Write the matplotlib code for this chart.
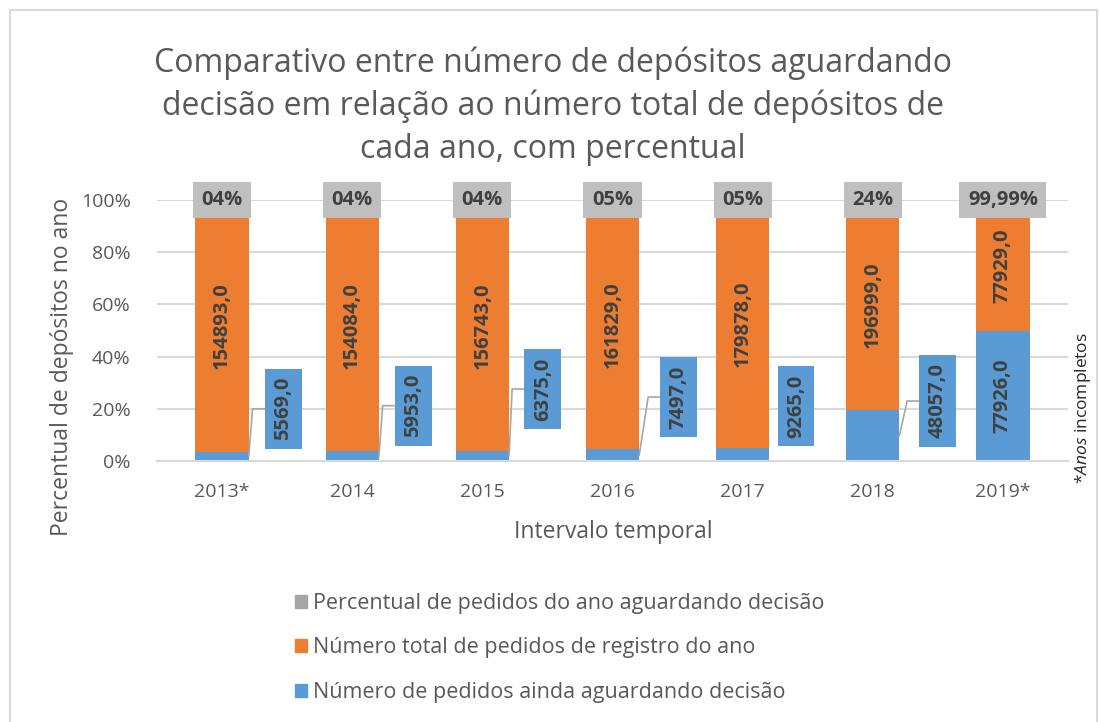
import numpy as np
import matplotlib.pyplot as plt
from matplotlib.patches import Patch, Rectangle

plt.rcParams['font.family'] = ['Open Sans', 'DejaVu Sans']
plt.rcParams['mathtext.fontset'] = 'custom'
plt.rcParams['mathtext.it'] = 'Open Sans:italic'
plt.rcParams['mathtext.rm'] = 'Open Sans'

# dados
anos = ['2013*', '2014', '2015', '2016', '2017', '2018', '2019*']
aguardando = [5569, 5953, 6375, 7497, 9265, 48057, 77926]
total = [154893, 154084, 156743, 161829, 179878, 196999, 77929]
percentual = ['04%', '04%', '04%', '05%', '05%', '24%', '99,99%']

# posicao dos rotulos azuis (deslocamento x em categorias, centro y em %)
rot_dx = [0.47, 0.47, 0.465, 0.51, 0.41, 0.50]
rot_y = [20, 21.2, 27.6, 24.5, 21, 23]
com_linha = [True, True, True, True, False, True]

cinza = '#bfbfbf'
laranja = '#ed7d31'
azul = '#5b9bd5'
txt = '#595959'
txt_escuro = '#404040'

aguardando = np.array(aguardando, dtype=float)
total = np.array(total, dtype=float)
soma = aguardando + total
pct_azul = aguardando / soma * 100
pct_laranja = total / soma * 100
x = np.arange(len(anos))
largura = 0.41

fig = plt.figure(figsize=(10.99, 7.22), dpi=100)
ax = fig.add_axes([157/1099, 1 - 461/722, (1068 - 157)/1099, 261/722])

ax.bar(x, pct_azul, largura, color=azul, zorder=2)
ax.bar(x, pct_laranja, largura, bottom=pct_azul, color=laranja, zorder=2)

ax.set_xlim(-0.5, len(anos) - 0.5)
ax.set_ylim(0, 100)
ax.set_yticks(np.arange(0, 101, 20))
ax.set_yticklabels([f'{v}%' for v in range(0, 101, 20)])
ax.set_xticks(x)
ax.set_xticklabels(anos)
ax.tick_params(axis='both', length=0, labelsize=14, colors=txt)
ax.tick_params(axis='y', pad=19)
ax.tick_params(axis='x', pad=16)
ax.grid(axis='y', color='#d9d9d9', lw=1.5, zorder=0)
for s in ['top', 'right', 'left']:
    ax.spines[s].set_visible(False)
ax.spines['bottom'].set_color('#d9d9d9')
ax.spines['bottom'].set_linewidth(1.5)

fonte_rot = dict(fontsize=14.5, fontweight='bold', color=txt_escuro)

for i in range(len(anos)):
    # rotulo laranja
    ax.text(x[i], pct_azul[i] + pct_laranja[i] / 2, f'{int(total[i])},0',
            rotation=90, ha='center', va='center', zorder=4, **fonte_rot)
    # rotulo cinza no topo
    ax.text(x[i], 100, percentual[i], ha='center', va='center', zorder=5,
            clip_on=False,
            bbox=dict(boxstyle='square,pad=0.42', fc=cinza, ec='none'),
            **fonte_rot)
    # rotulo azul
    if i < len(rot_dx):
        cx = x[i] + rot_dx[i]
        ax.text(cx, rot_y[i], f'{int(aguardando[i])},0', rotation=90,
                ha='center', va='center', zorder=5,
                bbox=dict(boxstyle='square,pad=0.42', fc=azul, ec='none'),
                **fonte_rot)
        if com_linha[i]:
            esq = cx - 0.146
            ax.plot([x[i] + largura / 2, esq - 0.09, esq],
                    [pct_azul[i] / 2, rot_y[i], rot_y[i]],
                    color='#a6a6a6', lw=1.2, zorder=3, clip_on=False)
    else:
        ax.text(x[i], pct_azul[i] / 2, f'{int(aguardando[i])},0',
                rotation=90, ha='center', va='center', zorder=4, **fonte_rot)

# titulo e eixos
fig.text(0.503, 1 - 106/722,
         'Comparativo entre número de depósitos aguardando\n'
         'decisão em relação ao número total de depósitos de\n'
         'cada ano, com percentual',
         ha='center', va='center', fontsize=23, color=txt, linespacing=1.38)
fig.text(62/1099, 1 - 367/722, 'Percentual de depósitos no ano', rotation=90,
         ha='center', va='center', fontsize=16.5, color=txt)
fig.text(613/1099, 1 - 532/722, 'Intervalo temporal', ha='center', va='center',
         fontsize=16.5, color=txt)
fig.text(1083/1099, 1 - 408/722, r'*$\it{Anos}$ incompletos', rotation=90,
         ha='center', va='center', fontsize=12.5, color='#262626')

# legenda
handles = [Patch(color='#a5a5a5'), Patch(color=laranja), Patch(color=azul)]
labels = ['Percentual de pedidos do ano aguardando decisão',
          'Número total de pedidos de registro do ano',
          'Número de pedidos ainda aguardando decisão']
fig.legend(handles, labels, loc='center', bbox_to_anchor=(560/1099, 1 - 648/722),
           frameon=False, fontsize=15.5, labelcolor=txt, labelspacing=1.1,
           handlelength=0.55, handleheight=0.55, handletextpad=0.3)

# borda
fig.patches.append(Rectangle((10/1099, -0.05), (1087)/1099, (712)/722 + 0.05,
                             transform=fig.transFigure, fill=False,
                             ec='#d9d9d9', lw=1.5))

fig.savefig('out.png', dpi=100)
